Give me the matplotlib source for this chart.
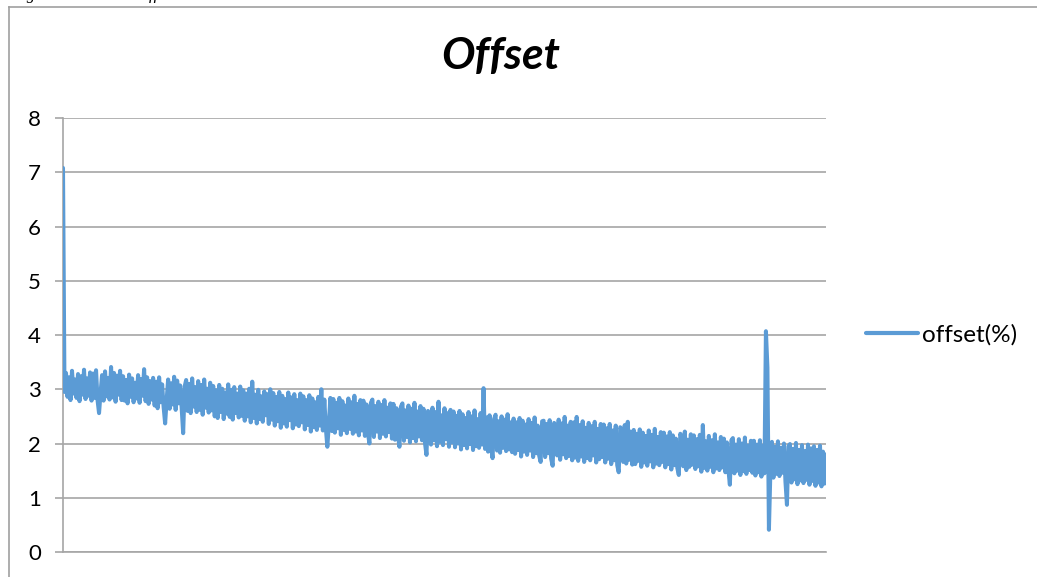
import matplotlib
matplotlib.use("Agg")
import matplotlib.pyplot as plt
from matplotlib.lines import Line2D
import numpy as np

# offset(%) samples, in acquisition order
offset_pct = [
    7.08, 2.95, 3.30, 2.86, 3.22, 2.80, 3.34, 2.92, 3.18, 2.84,
    3.28, 2.78, 3.24, 2.90, 3.36, 2.82, 3.20, 2.88, 3.31, 2.79,
    3.29, 2.84, 3.35, 2.80, 2.56, 2.93, 3.26, 2.79, 3.33, 2.87,
    3.21, 2.81, 3.41, 2.85, 3.30, 2.77, 3.25, 2.90, 3.34, 2.80,
    3.24, 2.79, 3.17, 2.74, 3.27, 2.86, 3.20, 2.76, 3.12, 2.83,
    3.26, 2.75, 3.19, 2.88, 3.37, 2.78, 3.22, 2.73, 3.15, 2.81,
    3.21, 2.70, 3.14, 2.65, 3.22, 2.76, 3.09, 2.67, 2.37, 2.80,
    3.18, 2.64, 3.11, 2.72, 3.23, 2.62, 3.16, 2.74, 3.07, 2.66,
    2.19, 3.05, 3.17, 2.60, 3.10, 2.56, 3.20, 2.68, 3.04, 2.58,
    3.15, 2.62, 3.08, 2.53, 3.18, 2.66, 3.01, 2.57, 3.12, 2.61,
    3.06, 2.50, 2.98, 2.47, 3.08, 2.58, 3.01, 2.45, 2.94, 2.55,
    3.09, 2.49, 2.99, 2.44, 3.04, 2.56, 2.92, 2.48, 3.05, 2.51,
    2.98, 2.42, 2.92, 2.50, 3.01, 2.39, 3.14, 2.47, 2.90, 2.37,
    2.99, 2.45, 2.87, 2.40, 2.96, 2.52, 2.91, 2.36, 3.00, 2.44,
    2.93, 2.33, 2.86, 2.41, 2.95, 2.29, 2.88, 2.37, 2.82, 2.31,
    2.94, 2.43, 2.85, 2.28, 2.91, 2.35, 2.80, 2.32, 2.92, 2.39,
    2.87, 2.26, 2.80, 2.34, 2.89, 2.22, 2.83, 2.30, 2.76, 2.25,
    2.86, 2.33, 3.00, 2.24, 2.81, 2.28, 1.94, 2.36, 2.84, 2.23,
    2.82, 2.20, 2.75, 2.28, 2.84, 2.16, 2.78, 2.25, 2.70, 2.19,
    2.83, 2.27, 2.76, 2.18, 2.88, 2.22, 2.73, 2.15, 2.80, 2.24,
    2.79, 2.14, 2.72, 2.20, 2.00, 2.75, 2.81, 2.12, 2.69, 2.22,
    2.77, 2.10, 2.71, 2.18, 2.80, 2.13, 2.66, 2.21, 2.74, 2.09,
    2.73, 2.07, 2.65, 2.15, 1.94, 2.68, 2.74, 2.05, 2.61, 2.12,
    2.70, 2.02, 2.64, 2.10, 2.75, 2.04, 2.59, 2.13, 2.69, 2.06,
    2.64, 2.01, 1.79, 2.60, 2.55, 1.98, 2.66, 2.06, 2.58, 1.95,
    2.77, 2.03, 2.52, 1.97, 2.65, 2.08, 2.56, 1.94, 2.62, 2.02,
    2.59, 1.93, 2.51, 2.00, 2.60, 1.89, 2.54, 1.97, 2.47, 1.91,
    2.58, 1.99, 2.50, 1.88, 2.61, 1.95, 2.45, 1.92, 2.56, 1.98,
    3.02, 1.90, 2.48, 1.85, 2.52, 1.94, 1.73, 2.45, 2.53, 1.87,
    2.41, 1.83, 2.50, 1.92, 2.44, 1.86, 2.54, 1.89, 2.39, 1.84,
    2.46, 1.81, 2.39, 1.88, 2.47, 1.76, 2.42, 1.85, 2.35, 1.79,
    2.45, 1.87, 2.38, 1.75, 2.48, 1.82, 2.33, 1.78, 1.66, 2.41,
    2.42, 1.75, 2.36, 1.82, 2.43, 1.72, 1.59, 2.38, 2.31, 1.78,
    2.44, 1.70, 2.37, 1.80, 2.49, 1.73, 2.33, 1.77, 2.40, 1.69,
    2.39, 1.74, 2.49, 1.68, 2.34, 1.76, 2.41, 1.66, 2.29, 1.73,
    2.38, 1.69, 2.32, 1.78, 2.40, 1.65, 2.27, 1.71, 2.36, 1.75,
    2.35, 1.65, 2.28, 1.72, 2.36, 1.62, 2.24, 1.69, 2.33, 1.60,
    1.47, 2.30, 2.26, 1.66, 2.34, 1.63, 2.40, 1.70, 2.22, 1.61,
    2.25, 1.62, 2.18, 1.68, 2.26, 1.57, 2.20, 1.65, 2.14, 1.59,
    2.24, 1.67, 2.16, 1.56, 2.27, 1.63, 2.12, 1.60, 2.21, 1.66,
    2.20, 1.56, 2.13, 1.62, 2.21, 1.52, 2.15, 1.60, 2.09, 1.55,
    1.42, 2.18, 2.11, 1.58, 2.22, 1.51, 2.07, 1.57, 2.17, 1.61,
    2.15, 1.53, 2.08, 1.58, 2.16, 1.48, 2.34, 1.55, 2.04, 1.50,
    2.14, 1.57, 2.06, 1.47, 2.17, 1.54, 2.02, 1.51, 2.12, 1.56,
    2.09, 1.47, 2.02, 1.52, 1.24, 2.06, 2.10, 1.45, 1.98, 1.50,
    2.08, 1.42, 2.00, 1.49, 2.11, 1.44, 1.96, 1.51, 2.05, 1.46,
    2.05, 1.41, 1.98, 1.47, 2.06, 1.39, 1.95, 1.45, 4.07, 3.40,
    0.41, 1.52, 2.03, 1.37, 1.94, 1.44, 2.04, 1.40, 1.92, 1.46,
    2.00, 1.30, 0.87, 1.95, 1.99, 1.28, 1.90, 1.34, 2.01, 1.25,
    1.88, 1.32, 1.97, 1.27, 1.86, 1.33, 1.98, 1.24, 1.91, 1.31,
    1.95, 1.22, 1.88, 1.28, 1.96, 1.21, 1.85, 1.26, 1.80,
]
y_ticks = [0, 1, 2, 3, 4, 5, 6, 7, 8]
series_name = "offset(%)"
chart_title = "Offset"

W, H = 1037, 577
fig = plt.figure(figsize=(W / 100, H / 100), dpi=100)
fig.patch.set_facecolor("white")

def fx(px):
    return px / W

def fy(py):
    return 1 - py / H

ax = fig.add_axes([fx(63), fy(552), fx(826) - fx(63), fy(118) - fy(552)])

LINE_BLUE = "#5B9BD5"
GRID_GRAY = "#A6A6A6"
FONT = "Lato"
TICK_SIZE = 16
LEGEND_SIZE = 17.5

sample = np.arange(len(offset_pct))
line, = ax.plot(sample, offset_pct, color=LINE_BLUE, lw=2.9,
                solid_joinstyle="round", solid_capstyle="round",
                label=series_name, zorder=3)

ax.set_xlim(0, len(offset_pct) - 1)
ax.set_ylim(y_ticks[0], y_ticks[-1])
ax.set_yticks(y_ticks)
ax.set_yticklabels([str(t) for t in y_ticks], fontfamily=FONT, fontsize=TICK_SIZE)
ax.set_xticks([])
ax.grid(axis="y", color=GRID_GRAY, lw=1.2, zorder=1)
ax.set_axisbelow(True)
ax.tick_params(axis="y", length=6, width=1.2, color=GRID_GRAY, pad=10,
               labelcolor="black")

for side in ("top", "right"):
    ax.spines[side].set_visible(False)
ax.spines["left"].set_color(GRID_GRAY)
ax.spines["left"].set_linewidth(1.2)
ax.spines["bottom"].set_color(GRID_GRAY)
ax.spines["bottom"].set_linewidth(1.2)

# chart frame (left and top edges)
frame_kw = dict(color="#A0A0A0", lw=1.2, transform=fig.transFigure)
fig.add_artist(Line2D([fx(8.5), fx(8.5)], [fy(6.5), fy(580)], **frame_kw))
fig.add_artist(Line2D([fx(8.5), fx(1040)], [fy(6.5), fy(6.5)], **frame_kw))

# caption above the chart frame
fig.text(fx(12), fy(0) + 1.2 / H, "Figure", fontfamily="Liberation Serif",
         style="italic", fontsize=12, va="baseline", ha="left")
fig.text(fx(137), fy(0) + 1.2 / H, "Offset", fontfamily="Liberation Serif",
         style="italic", fontsize=12, va="baseline", ha="left")

# title
fig.text(fx(501), fy(56), chart_title, fontfamily=FONT, fontsize=32,
         fontweight="bold", style="italic", ha="center", va="center")

# legend
leg = ax.legend(handles=[line], loc="center left",
                bbox_to_anchor=(fx(866), fy(335)), bbox_transform=fig.transFigure,
                frameon=False, borderpad=0, borderaxespad=0,
                handlelength=2.15, handletextpad=0.15,
                prop={"family": FONT, "size": LEGEND_SIZE})
for h in leg.legend_handles:
    h.set_linewidth(3)

fig.savefig("out.png", dpi=100)
